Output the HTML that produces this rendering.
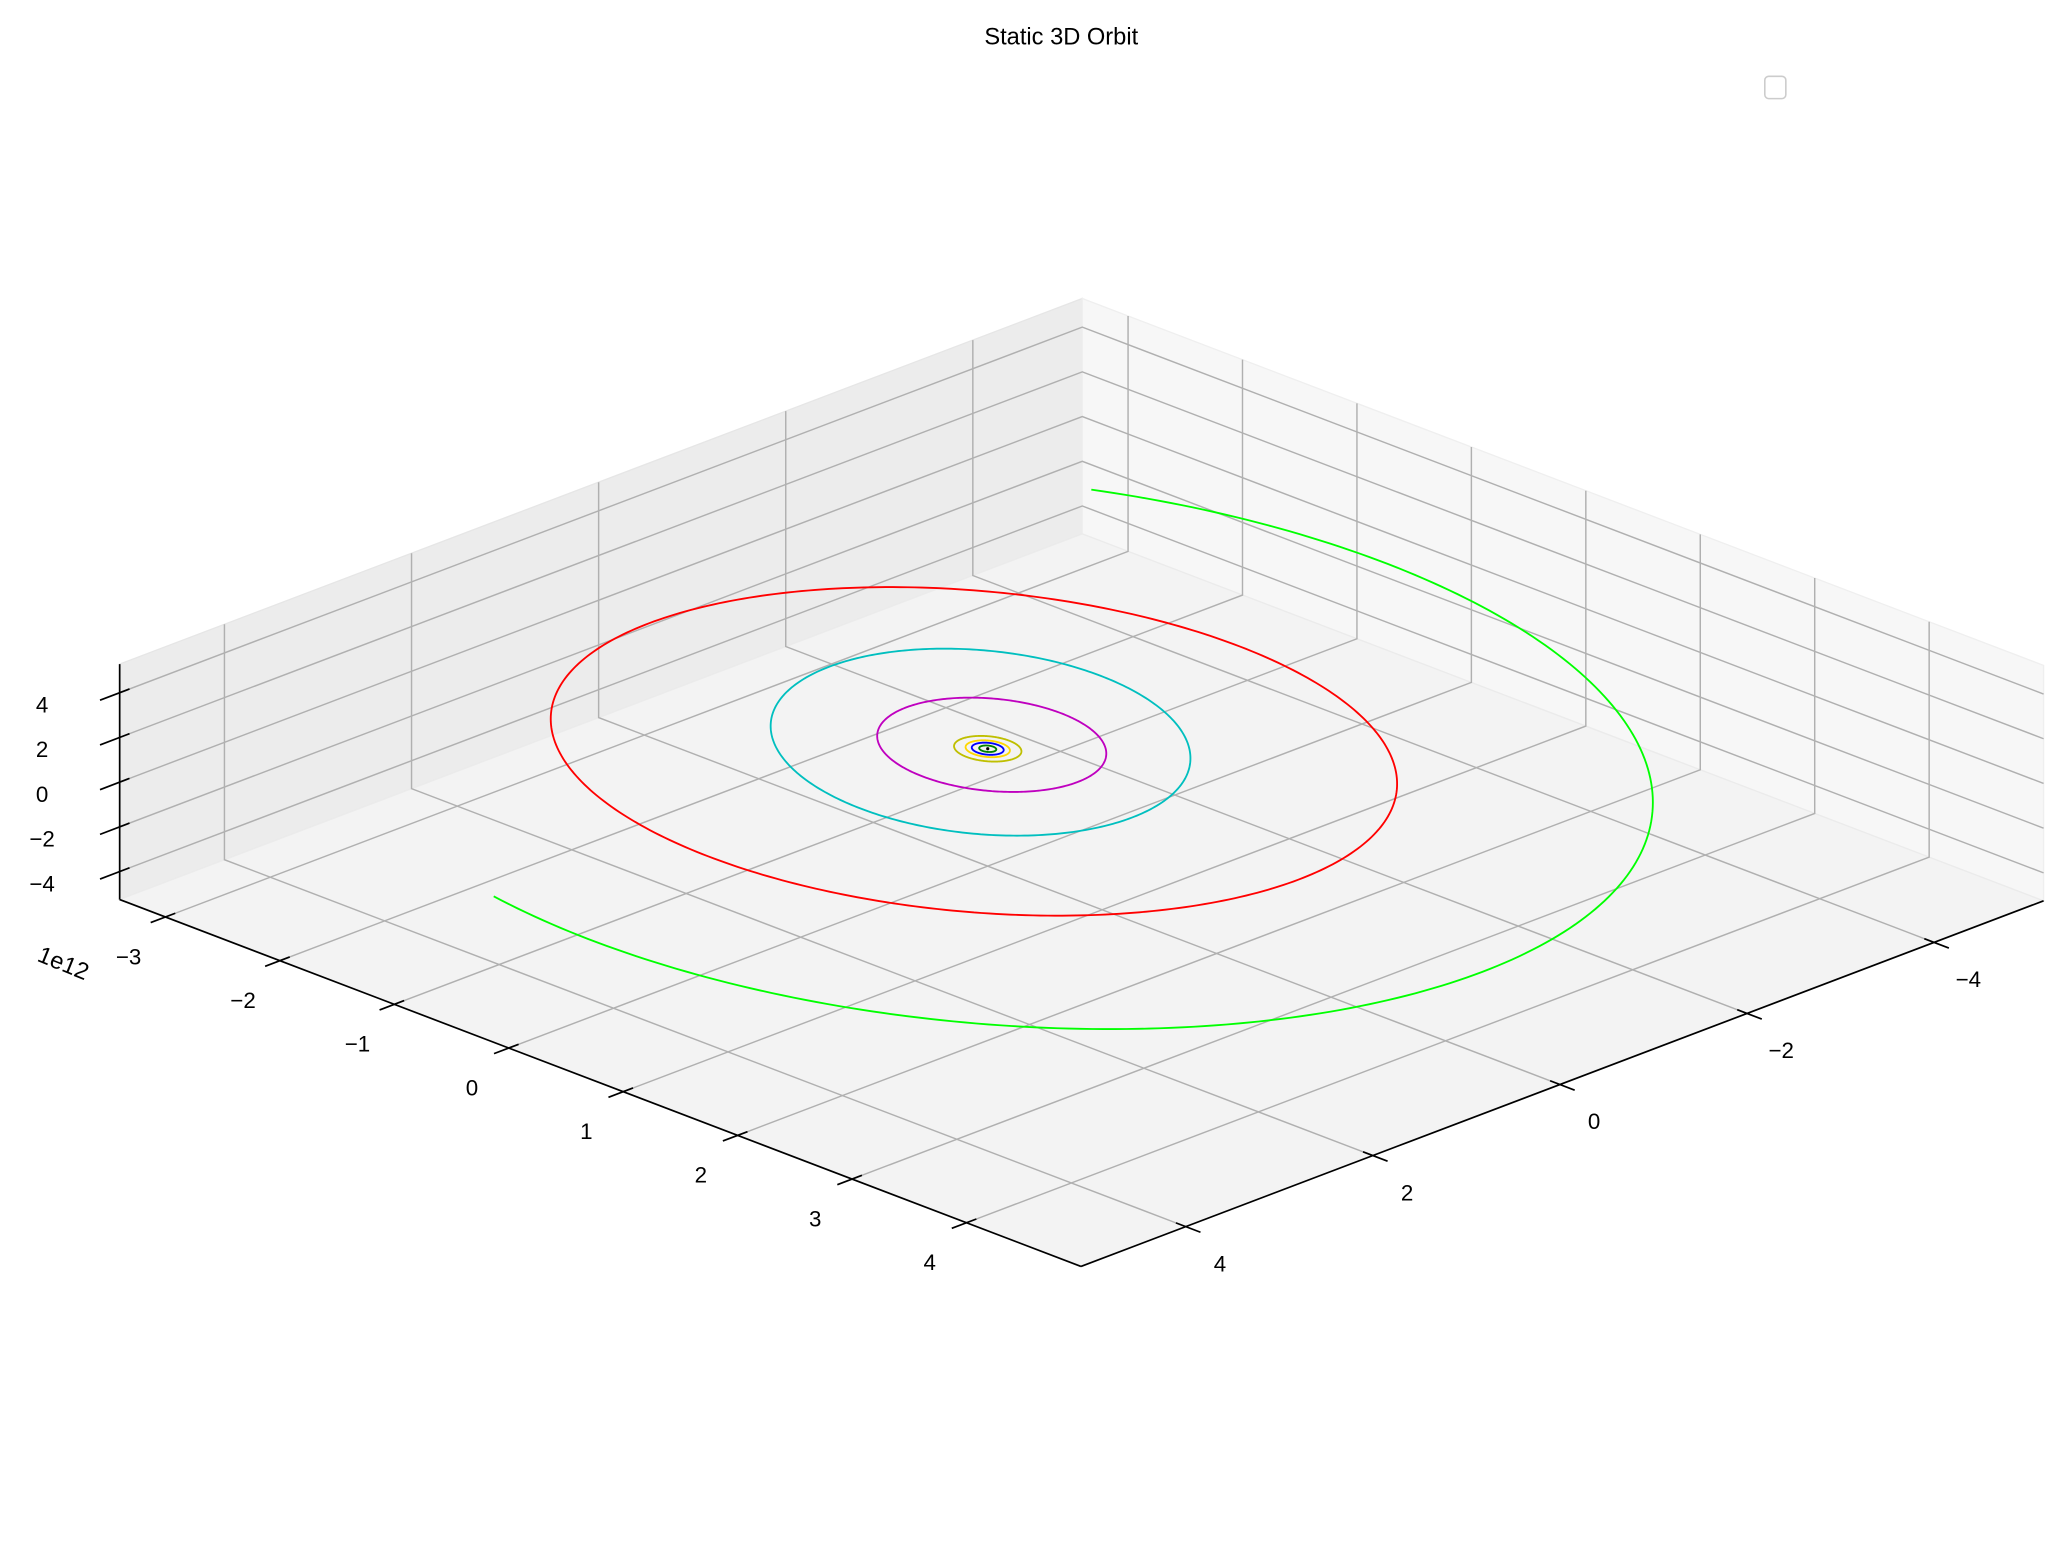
<!DOCTYPE html>
<html><head><meta charset="utf-8"><style>
html,body{margin:0;padding:0;background:#fff;}
svg{display:block;font-family:"Liberation Sans","DejaVu Sans",sans-serif;}
</style></head><body>
<svg id="chart" width="2062" height="1561" viewBox="0 0 1568 1187" preserveAspectRatio="none" xmlns="http://www.w3.org/2000/svg">
<rect x="0" y="0" width="1568" height="1187" fill="#fff"/>
<text x="807" y="34" font-size="18" text-anchor="middle" fill="#000">Static 3D Orbit</text>
<rect x="1342" y="58" width="16" height="17" rx="3" fill="#fff" stroke="#ccc" stroke-width="1.2"/>
<g id="panes"></g><g id="grid"></g><g id="orbits"></g><g id="axes"></g>
<text x="46" y="738" font-size="18" fill="#000" transform="rotate(22 46 738)" text-anchor="middle">1e12</text>
</svg>
<script>
const uTicks=[-3,-2,-1,0,1,2,3,4];
const vTicks=[-4,-2,0,2,4];
const zTicks=[-4,-2,0,2,4];
const orbitNames=["mercury","venus","earth","mars","jupiter","saturn","uranus","neptune"];
const orbitMajor=[0.058,0.108,0.15,0.228,0.84,1.67,2.92,4.95];
const orbitMinor=[0.058,0.108,0.15,0.228,0.775,1.42,2.863,4.5];
const orbitCenterU=[0,0,0,0,-0.028,-0.107,-0.030,0.03];
const orbitCenterV=[0,0,0,0,-0.077,-0.054,0.111,0.037];
const orbitColors=["#008000","#0000ff","#ffd700","#bfbf00","#bf00bf","#00bfbf","#ff0000","#00ff00"];
const orbitStart=[0,0,0,0,0,0,0,189];
const orbitEnd=[360,360,360,360,360,360,360,408];
const uMin=-3.4,uMax=5.0,vMax=5.12,vMin=-5.17,zMin=-5.25,zMax=5.28;
const PHI=50.7*Math.PI/180;
const NS="http://www.w3.org/2000/svg";
function P(u,v,z){
  const fu=(u-uMin)/(uMax-uMin), gv=(vMax-v)/(vMax-vMin);
  return [91+fu*731+gv*732, 684+fu*279-gv*278-(z-zMin)*17];
}
function mk(tag,attrs,parent){const e=document.createElementNS(NS,tag);for(const k in attrs)e.setAttribute(k,attrs[k]);document.getElementById(parent).appendChild(e);return e;}
function pts(a){return a.map(p=>p[0].toFixed(2)+","+p[1].toFixed(2)).join(" ");}
let e;
e=mk("polygon",{points:pts([P(uMin,vMax,zMin),P(uMin,vMin,zMin),P(uMin,vMin,zMax),P(uMin,vMax,zMax)]),fill:"#ececec",stroke:"#e6e6e6"},"panes");


e=mk("polygon",{points:pts([P(uMin,vMin,zMin),P(uMax,vMin,zMin),P(uMax,vMin,zMax),P(uMin,vMin,zMax)]),fill:"#f7f7f7",stroke:"#efefef"},"panes");


e=mk("polygon",{points:pts([P(uMin,vMax,zMin),P(uMin,vMin,zMin),P(uMax,vMin,zMin),P(uMax,vMax,zMin)]),fill:"#f3f3f3",stroke:"#ebebeb"},"panes");


const gs={stroke:"#b0b0b0","stroke-width":1.1,fill:"none"};
function gl(a,name){const l=mk("polyline",Object.assign({points:pts(a)},gs),"grid");}
uTicks.forEach(u=>{gl([P(u,vMax,zMin),P(u,vMin,zMin),P(u,vMin,zMax)],'grid-u');});
vTicks.forEach(v=>{gl([P(uMax,v,zMin),P(uMin,v,zMin),P(uMin,v,zMax)],'grid-v');});
zTicks.forEach(z=>{gl([P(uMin,vMax,z),P(uMin,vMin,z),P(uMax,vMin,z)],'grid-z');});
orbitMajor.forEach((p,i)=>{
  const q=orbitMinor[i];const a=[];
  const e1=[Math.cos(PHI),Math.sin(PHI)], e2=[-Math.sin(PHI),Math.cos(PHI)];
  for(let t=orbitStart[i];t<=orbitEnd[i]+0.01;t+=1){
    const rad=t*Math.PI/180,c=Math.cos(rad),s=Math.sin(rad);
    a.push(P(orbitCenterU[i]+p*c*e1[0]+q*s*e2[0], orbitCenterV[i]+p*c*e1[1]+q*s*e2[1], 0));
  }
  const l=mk("polyline",{points:pts(a),fill:"none",stroke:orbitColors[i],"stroke-width":1.4},"orbits");
  
  
});
const sun=mk("circle",{cx:P(0,0,0)[0],cy:P(0,0,0)[1],r:1.2,fill:"#000"},"orbits");


function ax(a,b,name){const l=mk("line",{x1:a[0],y1:a[1],x2:b[0],y2:b[1],stroke:"#000","stroke-width":1.3},"axes");}
ax(P(uMin,vMax,zMin),P(uMax,vMax,zMin),'x-axis-line');
ax(P(uMax,vMax,zMin),P(uMax,vMin,zMin),'y-axis-line');
ax(P(uMin,vMax,zMin),P(uMin,vMax,zMax),'z-axis-line');
function lab(x,y,s,name){const t=mk("text",{x:x,y:y,"font-size":17,"text-anchor":"middle",fill:"#000"},"axes");t.textContent=s;}
function fmt(n){return n<0?"\u2212"+(-n):String(n);}
uTicks.forEach(u=>{
  const p=P(u,vMax,zMin);
  ax([p[0]+0.935*8,p[1]-0.355*8],[p[0]-0.935*12,p[1]+0.355*12],'x-tick');
  lab(p[0]-28,p[1]+36,fmt(u),'x-tick-label');
});
vTicks.forEach(v=>{
  const p=P(uMax,v,zMin);
  ax([p[0]-0.934*8,p[1]-0.357*8],[p[0]+0.934*12,p[1]+0.357*12],'y-tick');
  lab(p[0]+26,p[1]+34,fmt(v),'y-tick-label');
});
zTicks.forEach(z=>{
  const p=P(uMin,vMax,z);
  ax([p[0]+0.934*8,p[1]-0.357*8],[p[0]-0.934*16,p[1]+0.357*16],'z-tick');
  lab(p[0]-59,p[1]+15,fmt(z),'z-tick-label');
});
</script>
</body></html>
